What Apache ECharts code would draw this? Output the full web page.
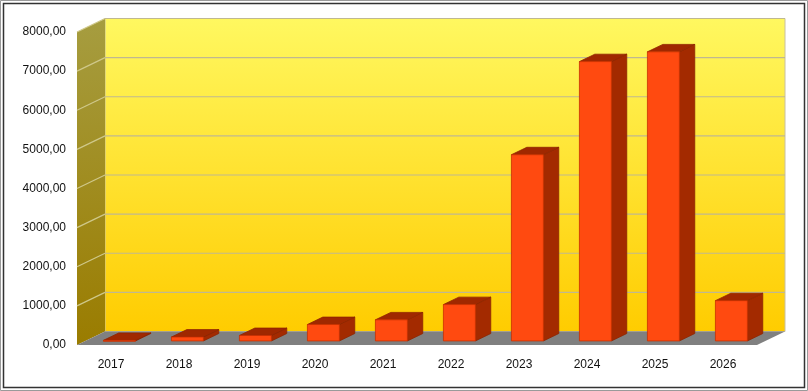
<!DOCTYPE html>
<html>
<head>
<meta charset="utf-8">
<script src="https://cdn.jsdelivr.net/npm/echarts@6/dist/echarts.min.js"></script>
<style>html,body{margin:0;padding:0;background:#fff;}#c{width:808px;height:391px;}</style>
</head>
<body>
<div id="c"></div>
<script>
const categories = ['2017','2018','2019','2020','2021','2022','2023','2024','2025','2026'];
const values = [15, 100, 140, 420, 540, 930, 4760, 7140, 7390, 1030];
const yTicks = [0, 1000, 2000, 3000, 4000, 5000, 6000, 7000, 8000];

// 3D look parameters (pixels)
const DX = 28, DY = 13.5;
const BAR_D0 = 0.3, BAR_DEPTH = 0.55, BAR_W = 0.47;

const chart = echarts.init(document.getElementById('c'));

function renderWalls(params, api) {
  const cs = params.coordSys;
  const x = cs.x, y = cs.y, w = cs.width, h = cs.height;
  const children = [];
  children.push({type:'rect', shape:{x:x+DX, y:y-DY, width:w, height:h},
    style:{fill:new echarts.graphic.LinearGradient(0,0,0,1,[{offset:0,color:'#FFF860'},{offset:1,color:'#FFCC00'}]), stroke:'#C8C0A0', lineWidth:1}});
  children.push({type:'polygon', shape:{points:[[x,y],[x+DX,y-DY],[x+DX,y+h-DY],[x,y+h]]},
    style:{fill:new echarts.graphic.LinearGradient(0,0,0,1,[{offset:0,color:'#A69D40'},{offset:1,color:'#9A7C00'}])}});
  children.push({type:'polygon', shape:{points:[[x,y+h],[x+DX,y+h-DY],[x+w+DX,y+h-DY],[x+w,y+h]]},
    style:{fill:'#808080'}});
  yTicks.forEach(function (v) {
    if (v === 0) return;
    const yy = api.coord([0, v])[1];
    children.push({type:'line', shape:{x1:x, y1:yy, x2:x+DX, y2:yy-DY}, style:{stroke:'#CFC88A', lineWidth:1.2}});
    children.push({type:'line', shape:{x1:x+DX, y1:yy-DY, x2:x+w+DX, y2:yy-DY}, style:{stroke:'#C0B890', lineWidth:1.2}});
  });
  return {type:'group', children:children};
}

function renderBar(params, api) {
  const idx = api.value(0), v = api.value(1);
  const base = api.coord([idx, 0]);
  const top = api.coord([idx, v]);
  const bw = api.size([1, 0])[0] * BAR_W;
  const ox = DX * BAR_D0, oy = -DY * BAR_D0;
  const fx0 = base[0] - bw / 2 + ox, fx1 = fx0 + bw;
  const fyb = base[1] + oy, fyt = top[1] + oy;
  const ddx = DX * BAR_DEPTH, ddy = -DY * BAR_DEPTH;
  return {type:'group', children:[
    {type:'polygon', shape:{points:[[fx1,fyt],[fx1+ddx,fyt+ddy],[fx1+ddx,fyb+ddy],[fx1,fyb]]},
      style:{fill:'#A32A00', stroke:'#8E2400', lineWidth:0.8}},
    {type:'polygon', shape:{points:[[fx0,fyt],[fx0+ddx,fyt+ddy],[fx1+ddx,fyt+ddy],[fx1,fyt]]},
      style:{fill:'#A02800', stroke:'#8E2400', lineWidth:0.8}},
    {type:'rect', shape:{x:fx0, y:fyt, width:bw, height:Math.max(fyb-fyt,1)},
      style:{fill:'#FF4A10', stroke:'#C83000', lineWidth:0.8}}
  ]};
}

chart.setOption({
  animation: false,
  backgroundColor: '#ffffff',
  graphic: [
    {type:'rect', shape:{x:0.5, y:0.5, width:807, height:390}, style:{fill:'none', stroke:'#9A9A9A', lineWidth:1}},
    {type:'rect', shape:{x:3.5, y:3.5, width:801, height:384}, style:{fill:'none', stroke:'#333', lineWidth:1.5}}
  ],
  grid: {left: 77, right: 51, top: 32, bottom: 46},
  xAxis: {
    type: 'category', data: categories,
    axisLine: {show:false}, axisTick: {show:false},
    axisLabel: {margin: 14, fontSize: 12, color: '#111', fontFamily: 'Liberation Sans'}
  },
  yAxis: {
    type: 'value', min: 0, max: 8000, interval: 1000,
    axisLine: {show:false}, axisTick: {show:false}, splitLine: {show:false},
    axisLabel: {margin: 11, fontSize: 12, color: '#111', fontFamily: 'Liberation Sans',
      formatter: function (v) { return v.toFixed(2).replace('.', ','); }}
  },
  series: [
    {type:'custom', z:1, clip:false, silent:true, renderItem: renderWalls, data:[[0,0]]},
    {type:'custom', z:2, clip:false, renderItem: renderBar,
      data: values.map(function (v, i) { return [i, v]; })}
  ]
});
</script>
</body>
</html>
